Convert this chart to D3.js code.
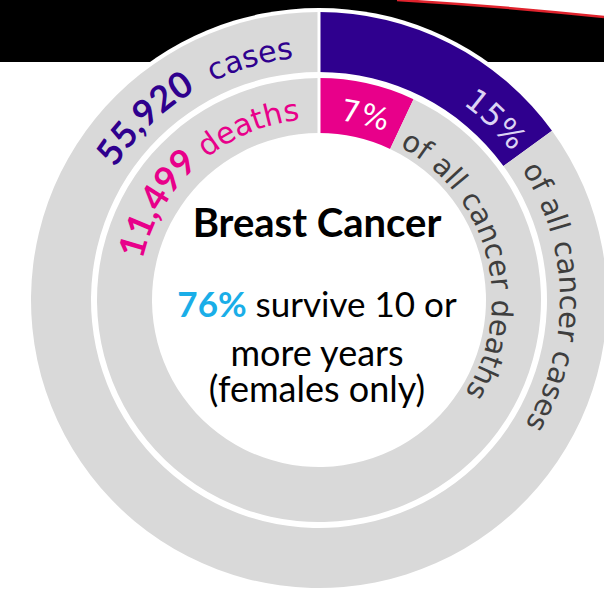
<!DOCTYPE html>
<html>
<head>
<meta charset="utf-8">
<script src="https://cdn.jsdelivr.net/npm/d3@7"></script>
<style>
  html, body { margin: 0; padding: 0; background: #fff; overflow: hidden; }
  svg { display: block; }
</style>
</head>
<body>
<svg id="chart" width="604" height="596"></svg>
<script>
// Breast cancer: share of all cancer cases (outer ring) and deaths (inner ring)
const ringNames = ["cases", "deaths"];
const ringShares = [15, 7];                 // % of all cancer cases / deaths
const ringCounts = [55920, 11499];
const ringCaptions = ["of all cancer cases", "of all cancer deaths"];
const ringColors = ["#2f008e", "#e8008a"];
const title = "Breast Cancer";
const survivalPct = 76;
const survivalLines = ["survive 10 or", "more years", "(females only)"];

const W = 604, H = 596;
const cx = 319, cy = 300;
const rings = [
  { inner: 228, outer: 288, base: 243 },   // cases
  { inner: 167, outer: 222, base: 181 }    // deaths
];
const grey = "#d9d9d9";
const capColor = "#3e3e3e";
const wordFont = "'DejaVu Sans', sans-serif";
const numFont = "Lato, 'Open Sans', sans-serif";

const svg = d3.select("#chart");
const defs = svg.append("defs");

// header band with the red rule
svg.append("rect").attr("x", 0).attr("y", 0).attr("width", W).attr("height", 62).attr("fill", "#000");
svg.append("path").attr("d", "M397,0 Q500,6 604,17 L604,0 Z").attr("fill", "#fff");
svg.append("path").attr("d", "M397,0 Q500,6 604,17").attr("fill", "none")
  .attr("stroke", "#e0232d").attr("stroke-width", 2.5);

// white backing disc gives the halo round the outer ring
svg.append("circle").attr("cx", cx).attr("cy", cy).attr("r", 292).attr("fill", "#fff");

const g = svg.append("g").attr("transform", `translate(${cx},${cy})`);
const pie = d3.pie().sort(null).value(d => d);

ringShares.forEach((share, i) => {
  const arc = d3.arc().innerRadius(rings[i].inner).outerRadius(rings[i].outer);
  g.selectAll(null)
    .data(pie([share, 100 - share]))
    .join("path")
    .attr("d", arc)
    .attr("fill", (d, j) => j === 0 ? ringColors[i] : grey);
});

// white seam at 12 o'clock
g.append("line").attr("x1", 0).attr("y1", -rings[1].inner + 1).attr("x2", 0).attr("y2", -rings[0].outer - 1)
  .attr("stroke", "#fff").attr("stroke-width", 3);

// circular text helpers (degrees measured clockwise from 12 o'clock)
const rad = d => (d - 90) * Math.PI / 180;
let pathId = 0;
function arcPath(r, a0, a1) {
  const p = d3.path();
  p.moveTo(cx + r * Math.cos(rad(a0)), cy + r * Math.sin(rad(a0)));
  p.arc(cx, cy, r, rad(a0), rad(a1), false);
  const id = "tp" + (pathId++);
  defs.append("path").attr("id", id).attr("d", p.toString());
  return id;
}
function arcText(r, a0, a1, offset, anchor) {
  const id = arcPath(r, a0, a1);
  return svg.append("text").attr("text-anchor", anchor)
    .append("textPath").attr("href", "#" + id).attr("startOffset", offset);
}

const fmt = d3.format(",");

// left-hand counts, ending just before the seam
ringCounts.forEach((n, i) => {
  const tp = arcText(rings[i].base, -140, -6, "100%", "end");
  tp.append("tspan").attr("font-family", numFont).attr("font-weight", 700)
    .attr("font-size", 36).attr("fill", ringColors[i]).text(fmt(n));
  tp.append("tspan").attr("font-family", wordFont).attr("font-size", 30)
    .attr("fill", ringColors[i]).attr("xml:space", "preserve")
    .text((i === 0 ? "\u00a0\u00a0" : "\u00a0") + ringNames[i]);
});

// percentage labels inside the coloured slices
const pctAngle = ringShares.map(s => s * 3.6);
{
  const tp = arcText(rings[0].base, 0, pctAngle[0] - 1.5, "100%", "end");
  tp.attr("font-family", wordFont).attr("font-size", 31).attr("fill", "#dcd4f4")
    .text(ringShares[0] + "%");
}
{
  const mid = pctAngle[1] / 2 + 1.5;
  const tp = arcText(rings[1].base, mid - 60, mid + 60, "50%", "middle");
  tp.attr("font-family", wordFont).attr("font-size", 30).attr("fill", "#fff")
    .text(ringShares[1] + "%");
}

// captions running clockwise after each slice
[[rings[0].base - 2, pctAngle[0] + 3.2], [rings[1].base - 8, pctAngle[1] + 2.5]].forEach(([r, a], i) => {
  const tp = arcText(r, a, a + 170, "0", "start");
  tp.attr("font-family", wordFont).attr("font-size", 29).attr("fill", capColor)
    .text(ringCaptions[i]);
});

// centre block
const centre = svg.append("g").attr("text-anchor", "middle").attr("font-family", numFont).attr("fill", "#000");
centre.append("text").attr("x", 317).attr("y", 237).attr("font-weight", 700).attr("font-size", 40).text(title);
const l1 = centre.append("text").attr("x", 317).attr("y", 317).attr("font-size", 35);
l1.append("tspan").attr("font-weight", 700).attr("fill", "#1aaee8").text(survivalPct + "%");
l1.append("tspan").text(" " + survivalLines[0]);
centre.append("text").attr("x", 317).attr("y", 366).attr("font-size", 36).text(survivalLines[1]);
centre.append("text").attr("x", 317).attr("y", 402).attr("font-size", 36).text(survivalLines[2]);
</script>
</body>
</html>
